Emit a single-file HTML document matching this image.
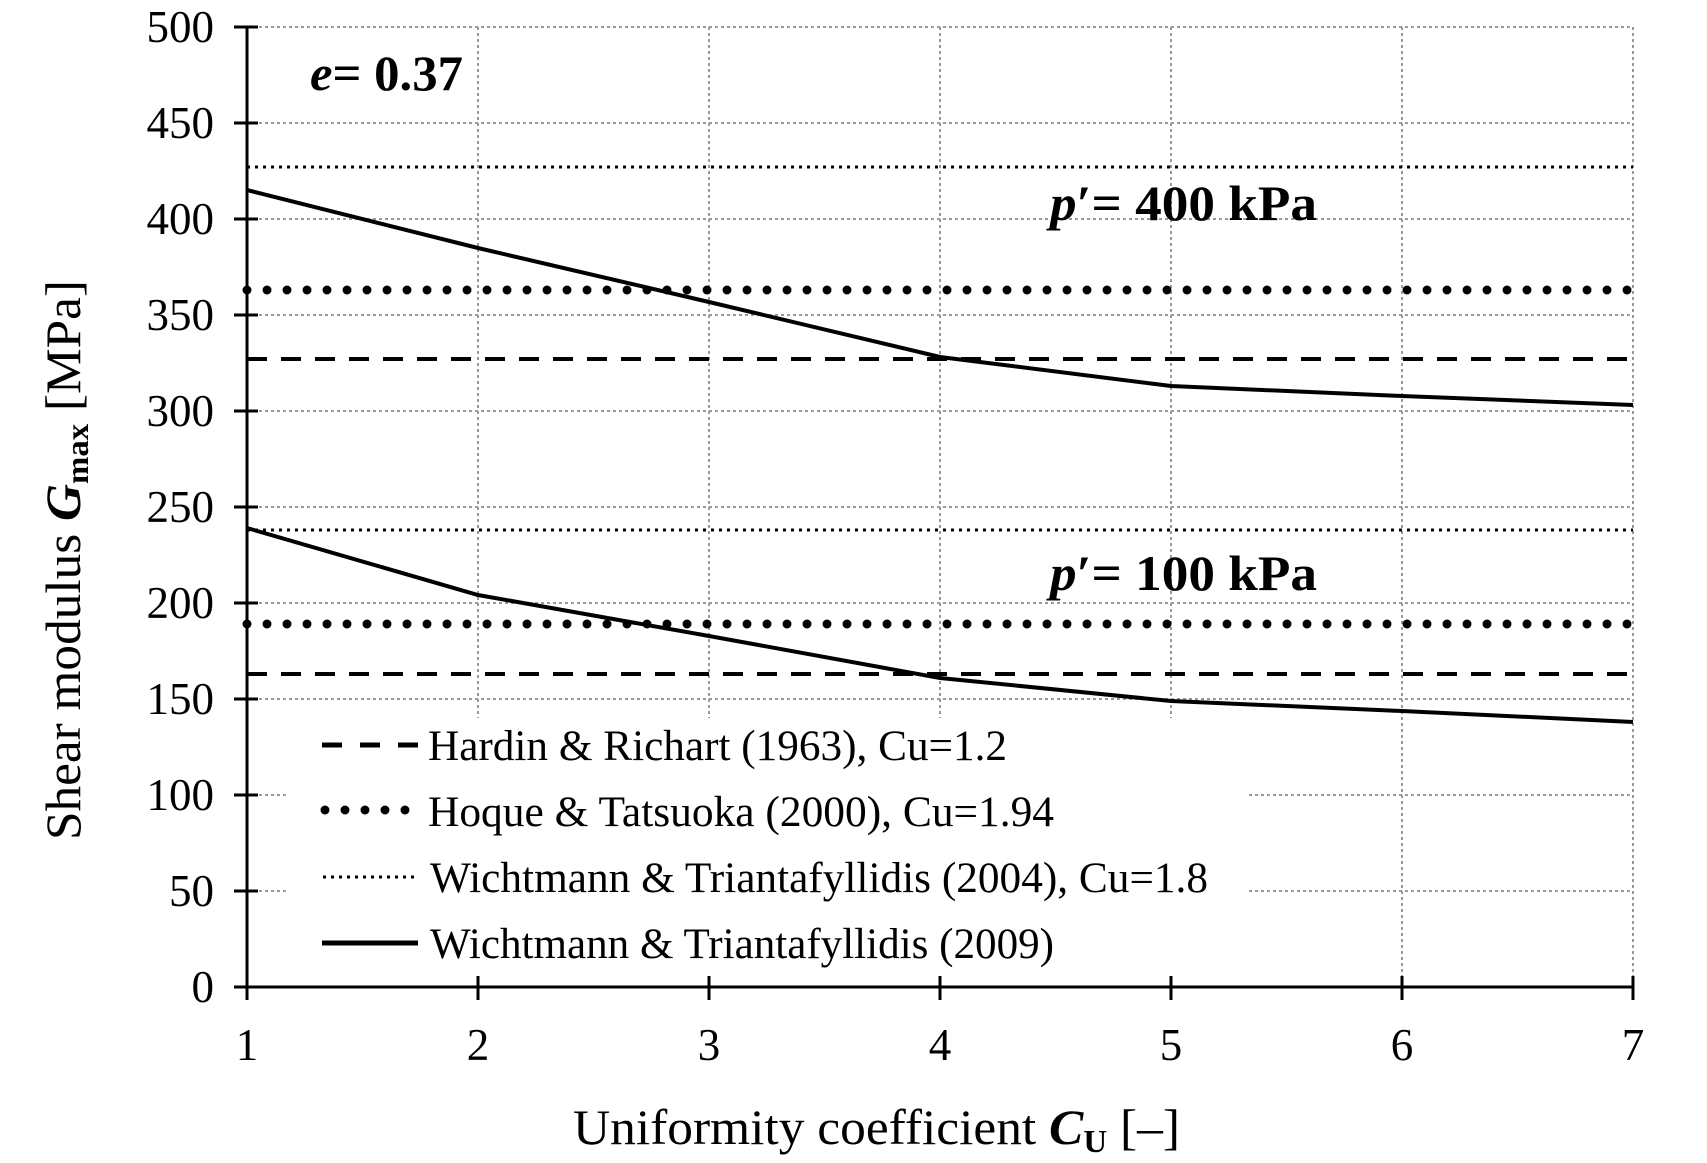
<!DOCTYPE html>
<html><head><meta charset="utf-8"><style>
html,body{margin:0;padding:0;background:#fff;}
svg{display:block;font-family:"Liberation Serif",serif;}
</style></head><body>
<svg width="1707" height="1163" viewBox="0 0 1707 1163" xmlns="http://www.w3.org/2000/svg">
<rect width="1707" height="1163" fill="#fff"/>
<g stroke="#999" stroke-width="2" stroke-dasharray="3,3">
<line x1="247" y1="27" x2="1633" y2="27"/>
<line x1="247" y1="123" x2="1633" y2="123"/>
<line x1="247" y1="219" x2="1633" y2="219"/>
<line x1="247" y1="315" x2="1633" y2="315"/>
<line x1="247" y1="411" x2="1633" y2="411"/>
<line x1="247" y1="507" x2="1633" y2="507"/>
<line x1="247" y1="603" x2="1633" y2="603"/>
<line x1="247" y1="699" x2="1633" y2="699"/>
<line x1="247" y1="795" x2="1633" y2="795"/>
<line x1="247" y1="891" x2="1633" y2="891"/>
<line x1="478" y1="27" x2="478" y2="987"/>
<line x1="709" y1="27" x2="709" y2="987"/>
<line x1="940" y1="27" x2="940" y2="987"/>
<line x1="1171" y1="27" x2="1171" y2="987"/>
<line x1="1402" y1="27" x2="1402" y2="987"/>
<line x1="1633" y1="27" x2="1633" y2="987"/>
</g>
<rect x="288" y="718" width="958" height="258" fill="#fff"/>
<g fill="none" stroke="#000">
<line x1="247" y1="167" x2="1633" y2="167" stroke-width="3" stroke-dasharray="3,5"/>
<line x1="247" y1="530" x2="1633" y2="530" stroke-width="3" stroke-dasharray="3,5"/>
<line x1="247" y1="290" x2="1633" y2="290" stroke-width="9" stroke-linecap="round" stroke-dasharray="0,20"/>
<line x1="247" y1="624" x2="1633" y2="624" stroke-width="9" stroke-linecap="round" stroke-dasharray="0,20"/>
<line x1="247" y1="359" x2="1633" y2="359" stroke-width="4" stroke-dasharray="20,14"/>
<line x1="247" y1="674" x2="1633" y2="674" stroke-width="4" stroke-dasharray="20,14"/>
<polyline stroke-width="4" points="247,190 478,248 709,302 940,357 1171,386 1402,396 1633,405"/>
<polyline stroke-width="4" points="247,528 478,595 709,636 940,678 1171,701 1402,711 1633,722"/>
</g>
<g stroke="#000" stroke-width="3">
<line x1="247" y1="27" x2="247" y2="1000"/>
<line x1="234" y1="987" x2="1633" y2="987"/>
<line x1="234" y1="27" x2="258" y2="27"/>
<line x1="234" y1="123" x2="258" y2="123"/>
<line x1="234" y1="219" x2="258" y2="219"/>
<line x1="234" y1="315" x2="258" y2="315"/>
<line x1="234" y1="411" x2="258" y2="411"/>
<line x1="234" y1="507" x2="258" y2="507"/>
<line x1="234" y1="603" x2="258" y2="603"/>
<line x1="234" y1="699" x2="258" y2="699"/>
<line x1="234" y1="795" x2="258" y2="795"/>
<line x1="234" y1="891" x2="258" y2="891"/>
<line x1="478" y1="976" x2="478" y2="1000"/>
<line x1="709" y1="976" x2="709" y2="1000"/>
<line x1="940" y1="976" x2="940" y2="1000"/>
<line x1="1171" y1="976" x2="1171" y2="1000"/>
<line x1="1402" y1="976" x2="1402" y2="1000"/>
<line x1="1633" y1="976" x2="1633" y2="1000"/>
</g>
<g font-size="45" text-anchor="end" fill="#000">
<text x="214" y="42">500</text><text x="214" y="138">450</text><text x="214" y="234">400</text>
<text x="214" y="330">350</text><text x="214" y="426">300</text><text x="214" y="522">250</text>
<text x="214" y="618">200</text><text x="214" y="714">150</text><text x="214" y="810">100</text>
<text x="214" y="906">50</text><text x="214" y="1002">0</text>
</g>
<g font-size="45" text-anchor="middle" fill="#000">
<text x="247" y="1060">1</text><text x="478" y="1060">2</text><text x="709" y="1060">3</text>
<text x="940" y="1060">4</text><text x="1171" y="1060">5</text><text x="1402" y="1060">6</text><text x="1633" y="1060">7</text>
</g>
<text x="573" y="1144" font-size="50" textLength="607" lengthAdjust="spacingAndGlyphs">Uniformity coefficient <tspan font-weight="bold" font-style="italic">C</tspan><tspan font-size="32" font-weight="bold" dy="8">U</tspan><tspan dy="-8">  [–]</tspan></text>
<text transform="translate(80,560) rotate(-90)" font-size="50" text-anchor="middle" textLength="560" lengthAdjust="spacingAndGlyphs">Shear modulus  <tspan font-weight="bold" font-style="italic">G</tspan><tspan font-size="32" font-weight="bold" dy="8">max</tspan><tspan dy="-8"> [MPa]</tspan></text>
<text x="310" y="90" font-size="50" font-weight="bold" textLength="153" lengthAdjust="spacingAndGlyphs"><tspan font-style="italic">e</tspan>= 0.37</text>
<text x="1050" y="220" font-size="50" font-weight="bold" textLength="267" lengthAdjust="spacingAndGlyphs"><tspan font-style="italic">p</tspan>′= 400 kPa</text>
<text x="1050" y="590" font-size="50" font-weight="bold" textLength="267" lengthAdjust="spacingAndGlyphs"><tspan font-style="italic">p</tspan>′= 100 kPa</text>
<g stroke="#000" fill="none">
<line x1="322" y1="745" x2="418" y2="745" stroke-width="5" stroke-dasharray="20,18"/>
<line x1="325" y1="810" x2="418" y2="810" stroke-width="9" stroke-linecap="round" stroke-dasharray="0,20"/>
<line x1="323" y1="877" x2="418" y2="877" stroke-width="3" stroke-dasharray="3,5"/>
<line x1="322" y1="943" x2="418" y2="943" stroke-width="5"/>
</g>
<g font-size="43" fill="#000">
<text x="428" y="760" textLength="579" lengthAdjust="spacingAndGlyphs">Hardin &amp; Richart (1963), Cu=1.2</text>
<text x="428" y="826" textLength="626" lengthAdjust="spacingAndGlyphs">Hoque &amp; Tatsuoka (2000), Cu=1.94</text>
<text x="430" y="892" textLength="778" lengthAdjust="spacingAndGlyphs">Wichtmann &amp; Triantafyllidis (2004), Cu=1.8</text>
<text x="430" y="958" textLength="624" lengthAdjust="spacingAndGlyphs">Wichtmann &amp; Triantafyllidis (2009)</text>
</g>
</svg>
</body></html>
